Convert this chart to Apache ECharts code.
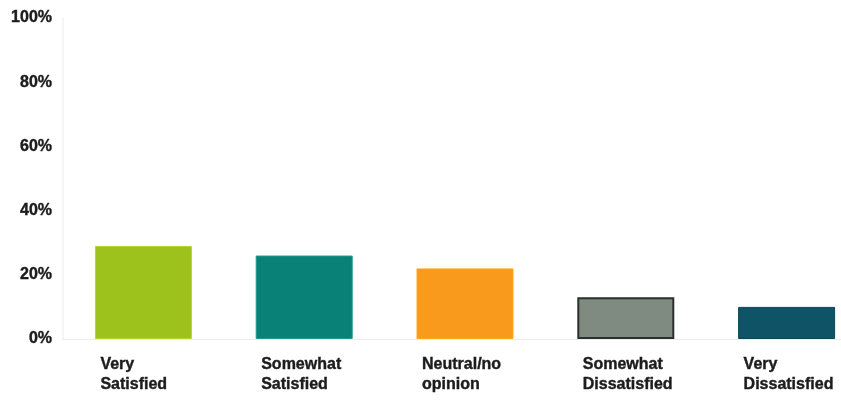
<!DOCTYPE html>
<html>
<head>
<meta charset="utf-8">
<script src="https://cdn.jsdelivr.net/npm/echarts@6/dist/echarts.min.js"></script>
<style>
html,body{margin:0;padding:0;background:#fff;overflow:hidden;width:841px;height:405px;}
#c{width:867px;height:405px;}
</style>
</head>
<body>
<div id="c"></div>
<script>
const categories = ['Very\nSatisfied', 'Somewhat\nSatisfied', 'Neutral/no\nopinion', 'Somewhat\nDissatisfied', 'Very\nDissatisfied'];
const values = [29, 26, 22, 13, 10];
const barColors = ['#9dc21c', '#0a8177', '#fa9a1c', '#7f8a80', '#0f5366'];
const barBorders = ['#b9d52a', '#1f9a96', '#ffa81e', '#2b302e', '#0c4757'];
const yTicks = [0, 20, 40, 60, 80, 100];

const chart = echarts.init(document.getElementById('c'), null, {renderer: 'canvas'});
const fontFamily = '"Liberation Sans", Arial, sans-serif';
chart.setOption({
  animation: false,
  backgroundColor: '#ffffff',
  grid: {left: 63, top: 18, bottom: 66, right: 0, containLabel: false},
  xAxis: {
    type: 'category',
    data: categories,
    axisLine: {show: true, lineStyle: {color: '#ececec', width: 1}},
    axisTick: {show: false},
    axisLabel: {
      interval: 0,
      margin: 16,
      formatter: function (v) {
        return v.split('\n').map(s => '{a|' + s + '}').join('\n');
      },
      width: 86,
      align: 'center',
      rich: {
        a: {align: 'left', fontFamily: fontFamily, fontWeight: 'bold', fontSize: 16, color: '#1c1c1c', lineHeight: 20,
            textBorderColor: '#1c1c1c', textBorderWidth: 0.4}
      }
    }
  },
  yAxis: {
    type: 'value',
    min: 0,
    max: 100,
    interval: 20,
    axisLine: {show: true, lineStyle: {color: '#f5f5f5', width: 2}},
    axisTick: {show: false},
    splitLine: {show: false},
    axisLabel: {
      margin: 11,
      fontFamily: fontFamily,
      fontWeight: 'bold',
      fontSize: 16,
      color: '#1c1c1c',
      textBorderColor: '#1c1c1c',
      textBorderWidth: 0.4,
      formatter: function (v) { return yTicks.indexOf(v) >= 0 ? v + '%' : ''; }
    }
  },
  series: [{
    type: 'bar',
    barWidth: 97,
    data: values.map((v, i) => ({
      value: v,
      itemStyle: {color: barColors[i], borderColor: barBorders[i], borderWidth: i === 3 ? 2 : 1}
    }))
  }]
});
</script>
</body>
</html>
